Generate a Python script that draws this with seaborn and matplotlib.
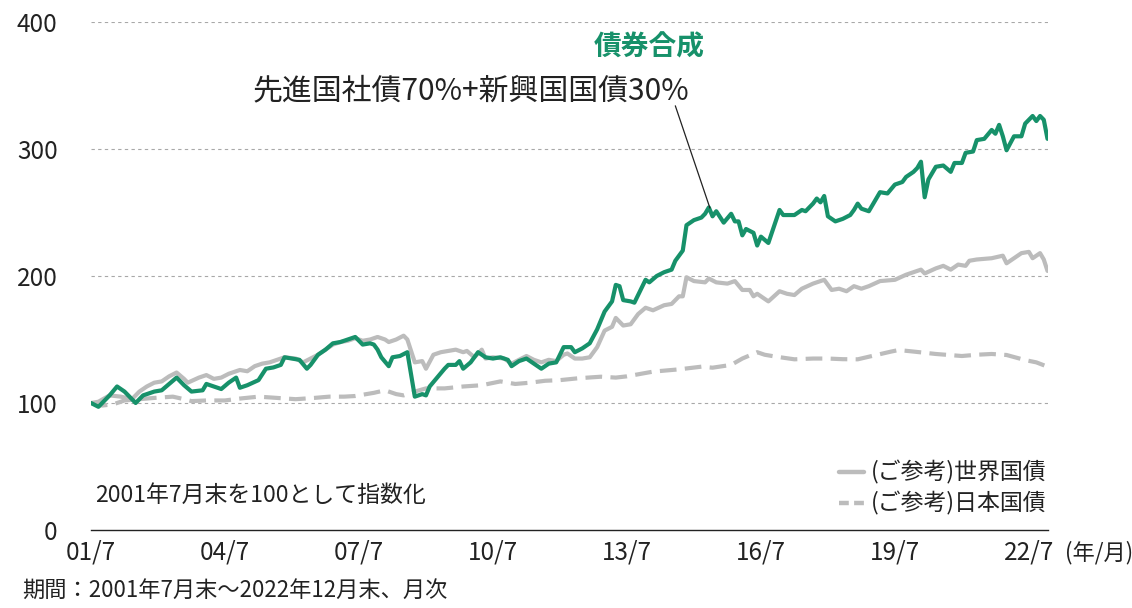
import numpy as np
import pandas as pd
import seaborn as sns
from matplotlib import pyplot as plt
from matplotlib.lines import Line2D

# months since 2001/7 and index values
composite_m = [0, 2, 5, 7, 9, 12, 14, 17, 19, 21, 23, 25, 27, 30, 31, 33, 35, 37, 39, 40,
               42, 45, 47, 49, 51, 52, 54, 56, 58, 59, 61, 63, 65, 67, 69, 71, 73, 75, 76, 77,
               78, 80, 81, 83, 85, 87, 89, 90, 91, 93, 95, 96, 98, 99, 100, 102, 104, 106, 108, 110,
               112, 113, 115, 117, 119, 121, 123, 125, 126, 127, 129, 130, 132, 134, 136, 138, 140, 141, 142, 143,
               145, 146, 147, 149, 150, 152, 154, 156, 157, 159, 160, 162, 164, 165, 166, 167, 168, 170, 172, 173,
               174, 175, 176, 178, 179, 180, 182, 185, 186, 189, 191, 192, 194, 195, 196, 197, 198, 200, 202, 204,
               205, 206, 207, 209, 211, 212, 214, 216, 218, 219, 221, 222, 223, 224, 225, 227, 229, 231, 232, 234,
               235, 237, 238, 240, 242, 243, 244, 245, 246, 248, 250, 251, 253, 254, 255, 256, 257]
composite_v = [100, 97, 106, 113, 109, 100, 106, 109, 110, 115, 120, 114, 109, 110, 115, 113, 111, 116, 120, 112,
               114, 118, 127, 128, 130, 136, 135, 134, 127, 130, 138, 142, 147, 148, 150, 152, 146, 147, 146, 142,
               136, 129, 136, 137, 140, 105, 107, 106, 113, 120, 127, 130, 130, 133, 127, 132, 140, 136, 135, 136,
               134, 129, 133, 135, 131, 127, 131, 132, 138, 144, 144, 140, 143, 147, 158, 172, 180, 193, 192, 181,
               180, 179, 185, 197, 195, 200, 203, 205, 212, 220, 240, 244, 246, 249, 254, 247, 251, 242, 249, 243,
               243, 232, 237, 234, 224, 231, 226, 252, 248, 248, 252, 251, 257, 261, 258, 263, 247, 243, 245, 248,
               252, 257, 253, 251, 261, 266, 265, 272, 274, 278, 282, 285, 290, 262, 276, 286, 287, 282, 289, 289,
               297, 298, 307, 308, 315, 312, 319, 310, 299, 310, 310, 320, 326, 322, 326, 323, 308]

world_m = [0, 2, 5, 8, 11, 13, 15, 17, 19, 21, 23, 25, 26, 29, 31, 33, 35, 37, 40, 42,
           44, 46, 48, 50, 52, 55, 57, 59, 61, 63, 65, 67, 69, 71, 73, 75, 77, 79, 80, 82,
           84, 85, 87, 89, 90, 92, 94, 96, 98, 100, 101, 103, 105, 106, 108, 111, 113, 115, 117, 119,
           121, 123, 125, 127, 128, 130, 132, 134, 136, 138, 140, 141, 142, 143, 145, 147, 149, 151, 154, 156,
           158, 159, 160, 162, 165, 166, 168, 171, 173, 175, 177, 178, 179, 182, 185, 187, 189, 191, 194, 197,
           199, 201, 203, 205, 207, 209, 212, 216, 219, 221, 223, 224, 227, 229, 231, 233, 235, 236, 238, 242,
           245, 246, 248, 250, 252, 253, 255, 256, 257]
world_v = [100, 101, 106, 105, 103, 109, 113, 116, 117, 121, 124, 119, 116, 120, 122, 119, 120, 123, 126, 125,
           129, 131, 132, 134, 136, 135, 132, 135, 138, 142, 146, 148, 149, 151, 149, 150, 152, 150, 148, 150,
           153, 150, 132, 133, 127, 138, 140, 141, 142, 140, 141, 136, 142, 135, 136, 135, 131, 134, 137, 134,
           132, 134, 133, 138, 139, 135, 135, 136, 144, 157, 160, 167, 164, 161, 162, 170, 175, 173, 177, 178,
           184, 184, 199, 196, 195, 198, 195, 194, 196, 189, 189, 184, 186, 180, 188, 186, 185, 190, 194, 197,
           189, 190, 188, 192, 190, 192, 196, 197, 201, 203, 205, 202, 206, 208, 205, 209, 208, 212, 213, 214,
           216, 210, 214, 218, 219, 214, 218, 213, 204]

japan_m = [0, 3, 6, 9, 13, 17, 22, 25, 27, 31, 36, 40, 45, 50, 55, 60, 64, 68, 71, 76,
           79, 82, 84, 87, 90, 95, 100, 105, 110, 114, 118, 122, 126, 131, 137, 141, 144, 151, 158, 164,
           167, 172, 175, 179, 181, 184, 189, 194, 198, 202, 206, 211, 215, 217, 221, 227, 234, 238, 242, 246,
           251, 254, 257]
japan_v = [100, 98, 99, 102, 103, 104, 105, 103, 101.5, 102, 102, 103.5, 105, 104, 103, 104, 105, 105, 105.5, 108,
           110, 107, 106, 109, 111.5, 111.5, 113, 114, 117, 115, 116, 117.5, 118, 119.5, 120.7, 120, 121, 124.7, 126.5, 128.6,
           127.8, 130, 135, 140, 138, 136.5, 134.4, 135, 135, 134.5, 134.4, 137.8, 140.5, 141.7, 140.5, 138.6, 137, 138, 138.6, 137.8,
           133.8, 132, 128.6]

tick_m = [0, 36, 72, 108, 144, 180, 216, 252]
tick_labels = ["01/7", "04/7", "07/7", "10/7", "13/7", "16/7", "19/7", "22/7"]
y_ticks = [0, 100, 200, 300, 400]

GREEN = "#17916a"
GRAY = "#bcbcbc"
INK = "#222222"

sns.set_theme(style="white")
plt.rcParams['font.family'] = ['Noto Sans CJK JP', 'DejaVu Sans']

fig = plt.figure(figsize=(11.32, 6.08), dpi=100)
ax = fig.add_axes([91 / 1132, 78 / 608, 956.5 / 1132, 508 / 608])

sns.lineplot(x=japan_m, y=japan_v, ax=ax, color=GRAY, linewidth=3.0,
             linestyle=(0, (4, 2)))
sns.lineplot(x=world_m, y=world_v, ax=ax, color=GRAY, linewidth=3.0)
sns.lineplot(x=composite_m, y=composite_v, ax=ax, color=GREEN, linewidth=3.0)

ax.set_xlim(0, 257)
ax.set_ylim(0, 400)
ax.set_yticks(y_ticks)
ax.set_yticklabels([str(t) for t in y_ticks], fontsize=17.5, color=INK)
ax.set_xticks(tick_m)
ax.set_xticklabels(tick_labels, fontsize=17.5, color=INK)
for y in y_ticks[1:]:
    ax.axhline(y, color="#a8a8a8", linewidth=0.8, linestyle=(0, (3, 3)), zorder=0)

for side in ["left", "right", "top"]:
    ax.spines[side].set_visible(False)
ax.spines["bottom"].set_color(INK)
ax.spines["bottom"].set_linewidth(1.0)
ax.tick_params(axis="x", direction="in", length=8, width=1, color=INK, pad=7)
ax.tick_params(axis="y", length=0, pad=24)
ax.set_xlabel("")
ax.set_ylabel("")

ax.text(1.0185, -0.045, "(年/月)", transform=ax.transAxes, fontsize=16, color=INK,
        ha="left", va="center")

# annotation
ax.text(150, 380, "債券合成", color=GREEN, fontsize=20, fontweight="bold", ha="center", va="center")
ax.text(102, 346, "先進国社債70%+新興国国債30%", color=INK, fontsize=21.5, ha="center", va="center")
ax.plot([157, 166.3], [334, 253.5], color=INK, linewidth=0.9)

ax.text(1, 27, "2001年7月末を100として指数化", fontsize=16.5, color=INK, ha="left", va="center")

handles = [Line2D([], [], color=GRAY, linewidth=3.2),
           Line2D([], [], color=GRAY, linewidth=3.2, linestyle=(0, (2.2, 1.2)))]
fig.legend(handles, ["(ご参考)世界国債", "(ご参考)日本国債"], loc="center left",
           bbox_to_anchor=(818 / 1132, 1 - 488 / 608), frameon=False, fontsize=16.5,
           handlelength=1.1, handletextpad=0.3, labelspacing=0.3, labelcolor=INK)

fig.text(22 / 1132, 1 - 590 / 608, "期間：2001年7月末～2022年12月末、月次", fontsize=16,
         color=INK, ha="left", va="center")

fig.savefig("out.png", dpi=100)
